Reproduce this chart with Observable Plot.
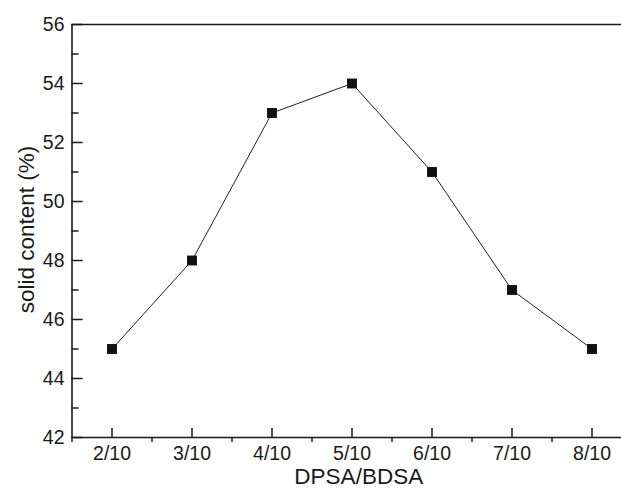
<!DOCTYPE html>
<html><head><meta charset="utf-8">
<script src="https://cdn.jsdelivr.net/npm/d3@7"></script>
<script src="https://cdn.jsdelivr.net/npm/@observablehq/plot@0.6"></script>
<style>body{margin:0;background:#fff}</style>
</head><body><div id="chart"></div>
<script>
const categories = ["2/10","3/10","4/10","5/10","6/10","7/10","8/10"];
const positions = [2,3,4,5,6,7,8];
const solidContent = [45,48,53,54,51,47,45];
const yMajorTicks = [42,44,46,48,50,52,54,56];
const yMinorTicks = [43,45,47,49,51,53,55];
const xMinorTicks = [1.5,2.5,3.5,4.5,5.5,6.5,7.5];
const xLabel = "DPSA/BDSA";
const yLabel = "solid content (%)";

const data = categories.map((c,i)=>({pos: positions[i], label: c, value: solidContent[i]}));
const xDomain = [1.5, 1.5 + 549.5/80];
const yDomain = [42, 56];
const ink = "#1a1a1a";
const tickShape = {draw(ctx, l){ ctx.moveTo(0,0); ctx.lineTo(0,-l); }};

const chart = Plot.plot({
  width: 621, height: 493,
  marginLeft: 71.5, marginRight: 0, marginTop: 24, marginBottom: 56,
  style: {fontFamily: "'Liberation Sans', Arial, sans-serif", color: ink, background: "#fff"},
  x: {domain: xDomain, axis: null},
  y: {domain: yDomain, axis: null},
  marks: [
    Plot.ruleY(yDomain, {stroke: ink, strokeWidth: 1.6}),
    Plot.ruleX([xDomain[0]], {stroke: ink, strokeWidth: 1.6}),
    Plot.vector(yMajorTicks, {x: xDomain[0], y: d=>d, length: 10, rotate: 90, anchor: "start", shape: tickShape, stroke: ink, strokeWidth: 1.5}),
    Plot.vector(yMinorTicks, {x: xDomain[0], y: d=>d, length: 6, rotate: 90, anchor: "start", shape: tickShape, stroke: ink, strokeWidth: 1.5}),
    Plot.vector(positions, {x: d=>d, y: yDomain[0], length: 9, rotate: 0, anchor: "start", shape: tickShape, stroke: ink, strokeWidth: 1.5}),
    Plot.vector(xMinorTicks, {x: d=>d, y: yDomain[0], length: 4, rotate: 180, anchor: "start", shape: tickShape, stroke: ink, strokeWidth: 1.5}),
    Plot.text(yMajorTicks, {x: xDomain[0], y: d=>d, text: d=>String(d), textAnchor: "end", lineAnchor: "middle", dx: -7.5, fontSize: 19.5, fill: ink}),
    Plot.text(positions, {x: d=>d, y: yDomain[0], text: d => categories[positions.indexOf(d)], lineAnchor: "top", dy: 8.5, fontSize: 19.5, fill: ink}),
    Plot.line(data, {x: "pos", y: "value", stroke: "#222", strokeWidth: 1}),
    Plot.dot(data, {x: "pos", y: "value", symbol: "square", r: 5.6, fill: "#111", stroke: "none"}),
    Plot.text([yLabel], {text: d=>d, frameAnchor: "left", textAnchor: "middle", rotate: -90, dx: -45.5, dy: -1.5, fontSize: 22.5, fill: ink}),
    Plot.text([xLabel], {text: d=>d, frameAnchor: "bottom", textAnchor: "middle", dx: 12, dy: 46, fontSize: 22.5, fill: ink})
  ]
});
document.getElementById("chart").append(chart);
</script>
</body></html>
